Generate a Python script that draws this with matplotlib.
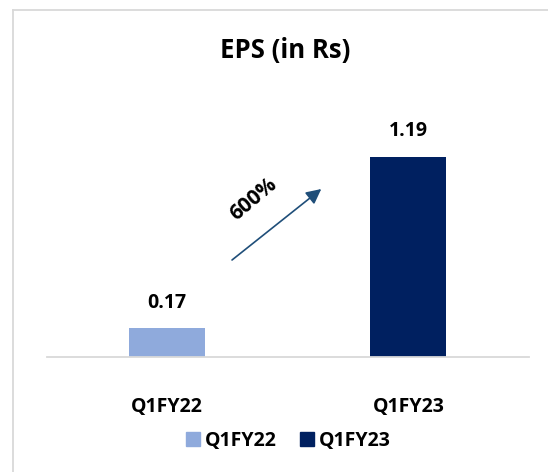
import matplotlib
matplotlib.use("Agg")
import matplotlib.pyplot as plt
from matplotlib.lines import Line2D
from matplotlib.patches import Patch

categories = ["Q1FY22", "Q1FY23"]
values = [0.17, 1.19]
value_labels = ["0.17", "1.19"]
colors = ["#8FAADC", "#002060"]
growth_label = "600%"
title = "EPS (in Rs)"

W, H = 548, 472
fig = plt.figure(figsize=(W / 100, H / 100), dpi=100)
plt.rcParams['font.family'] = ['Open Sans', 'DejaVu Sans']

# frame
fig.add_artist(Line2D([13 / W, 13 / W], [0, 1 - 10 / H], color="#D9D9D9", lw=1.3, transform=fig.transFigure))
fig.add_artist(Line2D([13 / W, 1], [1 - 10 / H, 1 - 10 / H], color="#D9D9D9", lw=1.3, transform=fig.transFigure))

ax_left, ax_right = 46.5, 529
ax_top, ax_bottom = 100, 356.7
ax = fig.add_axes([ax_left / W, 1 - ax_bottom / H, (ax_right - ax_left) / W, (ax_bottom - ax_top) / H])
ymax = values[1] * (ax_bottom - ax_top) / (ax_bottom - 156.7)
ax.set_xlim(-0.5, 1.5)
ax.set_ylim(0, ymax)
x = range(len(categories))
bars = ax.bar(x, values, width=76 / 241, color=colors, zorder=2)
for xi, v, lab in zip(x, values, value_labels):
    ax.annotate(lab, (xi, v), xytext=(0, 11), textcoords="offset points",
                ha="center", va="bottom", fontsize=14, fontweight="bold", color="#000000")

for s in ["top", "right", "left"]:
    ax.spines[s].set_visible(False)
ax.spines["bottom"].set_color("#D9D9D9")
ax.spines["bottom"].set_linewidth(1.3)
ax.set_yticks([])
ax.set_xticks(list(x))
ax.set_xticklabels(categories, fontsize=14, fontweight="bold")
ax.tick_params(axis="x", length=0, pad=29)

# arrow
ax.annotate("", xy=(0.574, 0.660), xytext=(0.380, 0.370), xycoords="axes fraction",
            textcoords="axes fraction",
            arrowprops=dict(arrowstyle="-|>,head_length=0.9,head_width=0.45", color="#1F4E79", lw=1.2))
ax.text(0.429, 0.614, growth_label, transform=ax.transAxes, rotation=40, ha="center", va="center",
        fontsize=15, fontweight="bold", rotation_mode="anchor")

fig.text(284.7 / W, 1 - 50.5 / H, title, ha="center", va="center", fontsize=18.5, fontweight="bold")

handles = [Patch(color=c, label=l) for c, l in zip(colors, categories)]
fig.legend(handles=handles, loc="center", bbox_to_anchor=(288 / W, 1 - 441 / H), ncol=2, frameon=False,
           prop=dict(size=14, weight="bold"), handlelength=0.72, handleheight=0.72, handletextpad=0.25,
           columnspacing=1.2, borderpad=0)

fig.savefig("out.png", dpi=100)
